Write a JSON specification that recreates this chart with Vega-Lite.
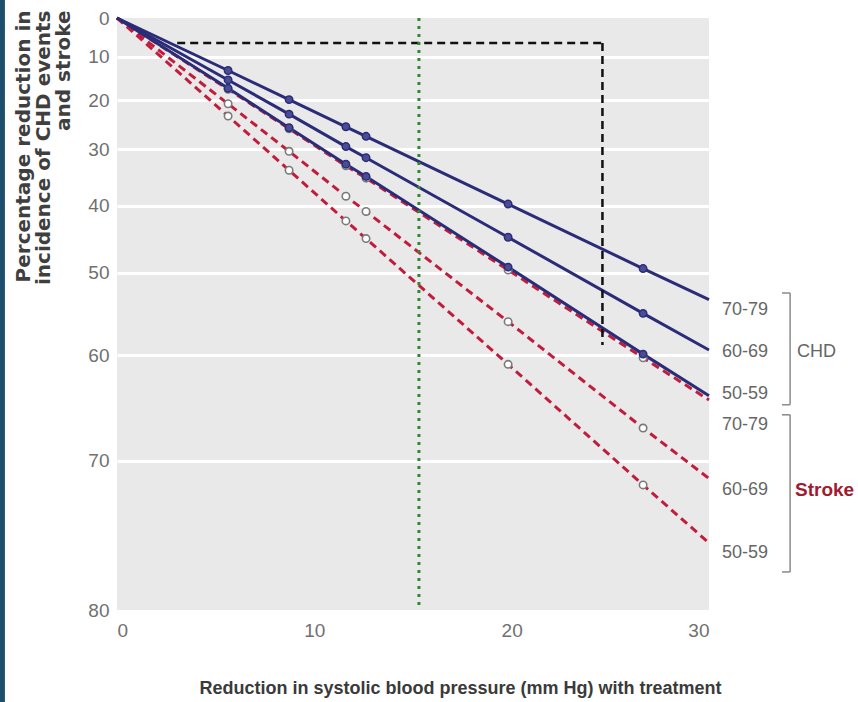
{
  "$schema": "https://vega.github.io/schema/vega-lite/v6.json",
  "width": 592,
  "height": 592,
  "autosize": {"type": "none"},
  "padding": {"left": 117, "top": 18, "right": 149, "bottom": 92},
  "background": "white",
  "config": {
    "view": {"fill": "#e9e9e9", "stroke": null},
    "font": "Liberation Sans, Arial, sans-serif"
  },
  "datasets": {
    "curves": [
      {"type": "CHD", "age": "70-79", "x": 0, "risk": 100},
      {"type": "CHD", "age": "70-79", "x": 5.63, "risk": 86.7},
      {"type": "CHD", "age": "70-79", "x": 8.72, "risk": 80.1},
      {"type": "CHD", "age": "70-79", "x": 11.6, "risk": 74.4},
      {"type": "CHD", "age": "70-79", "x": 12.62, "risk": 72.5},
      {"type": "CHD", "age": "70-79", "x": 19.82, "risk": 60.3},
      {"type": "CHD", "age": "70-79", "x": 26.66, "risk": 50.6},
      {"type": "CHD", "age": "70-79", "x": 30, "risk": 46.5},
      {"type": "CHD", "age": "60-69", "x": 0, "risk": 100},
      {"type": "CHD", "age": "60-69", "x": 5.63, "risk": 84.5},
      {"type": "CHD", "age": "60-69", "x": 8.72, "risk": 77.0},
      {"type": "CHD", "age": "60-69", "x": 11.6, "risk": 70.5},
      {"type": "CHD", "age": "60-69", "x": 12.62, "risk": 68.4},
      {"type": "CHD", "age": "60-69", "x": 19.82, "risk": 55.1},
      {"type": "CHD", "age": "60-69", "x": 26.66, "risk": 44.8},
      {"type": "CHD", "age": "60-69", "x": 30, "risk": 40.55},
      {"type": "CHD", "age": "50-59", "x": 0, "risk": 100},
      {"type": "CHD", "age": "50-59", "x": 5.63, "risk": 82.6},
      {"type": "CHD", "age": "50-59", "x": 8.72, "risk": 74.2},
      {"type": "CHD", "age": "50-59", "x": 11.6, "risk": 67.2},
      {"type": "CHD", "age": "50-59", "x": 12.62, "risk": 65.0},
      {"type": "CHD", "age": "50-59", "x": 19.82, "risk": 50.8},
      {"type": "CHD", "age": "50-59", "x": 26.66, "risk": 40.1},
      {"type": "CHD", "age": "50-59", "x": 30, "risk": 35.8},
      {"type": "Stroke", "age": "70-79", "x": 0, "risk": 100},
      {"type": "Stroke", "age": "70-79", "x": 5.63, "risk": 82.4},
      {"type": "Stroke", "age": "70-79", "x": 8.72, "risk": 74.0},
      {"type": "Stroke", "age": "70-79", "x": 11.6, "risk": 66.9},
      {"type": "Stroke", "age": "70-79", "x": 12.62, "risk": 64.7},
      {"type": "Stroke", "age": "70-79", "x": 19.82, "risk": 50.4},
      {"type": "Stroke", "age": "70-79", "x": 26.66, "risk": 39.7},
      {"type": "Stroke", "age": "70-79", "x": 30, "risk": 35.4},
      {"type": "Stroke", "age": "60-69", "x": 0, "risk": 100},
      {"type": "Stroke", "age": "60-69", "x": 5.63, "risk": 79.2},
      {"type": "Stroke", "age": "60-69", "x": 8.72, "risk": 69.6},
      {"type": "Stroke", "age": "60-69", "x": 11.6, "risk": 61.6},
      {"type": "Stroke", "age": "60-69", "x": 12.62, "risk": 59.1},
      {"type": "Stroke", "age": "60-69", "x": 19.82, "risk": 43.8},
      {"type": "Stroke", "age": "60-69", "x": 26.66, "risk": 32.8},
      {"type": "Stroke", "age": "60-69", "x": 30, "risk": 28.6},
      {"type": "Stroke", "age": "50-59", "x": 0, "risk": 100},
      {"type": "Stroke", "age": "50-59", "x": 5.63, "risk": 76.6},
      {"type": "Stroke", "age": "50-59", "x": 8.72, "risk": 66.1},
      {"type": "Stroke", "age": "50-59", "x": 11.6, "risk": 57.6},
      {"type": "Stroke", "age": "50-59", "x": 12.62, "risk": 54.9},
      {"type": "Stroke", "age": "50-59", "x": 19.82, "risk": 39.0},
      {"type": "Stroke", "age": "50-59", "x": 26.66, "risk": 28.1},
      {"type": "Stroke", "age": "50-59", "x": 30, "risk": 24.0}
    ],
    "box": [
      {"x": 3.05, "x2": 24.6, "y": 93.4, "y2": 93.4},
      {"x": 24.6, "x2": 24.6, "y": 93.4, "y2": 41.1}
    ],
    "green": [
      {"x": 15.3, "x2": 15.3, "y": 100, "y2": 20}
    ],
    "brackets": [
      {"x": 34.11, "x2": 34.11, "y": 47.35, "y2": 34.94},
      {"x": 33.7, "x2": 34.11, "y": 47.35, "y2": 47.35},
      {"x": 33.7, "x2": 34.11, "y": 34.94, "y2": 34.94},
      {"x": 34.11, "x2": 34.11, "y": 34.0, "y2": 22.18},
      {"x": 33.7, "x2": 34.11, "y": 34.0, "y2": 34.0},
      {"x": 33.7, "x2": 34.11, "y": 22.18, "y2": 22.18}
    ],
    "ages": [
      {"label": "70-79", "x": 30.66, "y": 45.22},
      {"label": "60-69", "x": 30.66, "y": 40.33},
      {"label": "50-59", "x": 30.66, "y": 35.97},
      {"label": "70-79", "x": 30.66, "y": 33.07},
      {"label": "60-69", "x": 30.66, "y": 27.72},
      {"label": "50-59", "x": 30.66, "y": 23.36}
    ],
    "groups": [
      {"label": "CHD", "x": 34.46, "y": 40.33}
    ],
    "groups2": [
      {"label": "Stroke", "x": 34.36, "y": 27.72}
    ],
    "stripe": [
      {"x": -6.3, "x2": -5.68, "y": 120, "y2": 14}
    ]
  },
  "encoding": {
    "x": {
      "type": "quantitative",
      "scale": {"domain": [0, 30], "nice": false, "zero": false},
      "axis": {
        "values": [0, 10, 20, 30],
        "title": "Reduction in systolic blood pressure (mm Hg) with treatment",
        "titleFont": "Liberation Sans, Arial, sans-serif",
        "titleFontSize": 18,
        "titleFontWeight": "bold",
        "titleColor": "#3a3a3a",
        "titleX": 343,
        "titleY": 78,
        "titleBaseline": "middle",
        "titleAlign": "center",
        "labelFontSize": 19,
        "labelColor": "#707070",
        "labelPadding": 11,
        "ticks": false,
        "domain": false,
        "grid": false
      }
    },
    "y": {
      "type": "quantitative",
      "scale": {"type": "log", "domain": [20, 100], "nice": false},
      "axis": {
        "values": [100, 90, 80, 70, 60, 50, 40, 30, 20],
        "labelExpr": "format(100 - datum.value, 'd')",
        "title": ["Percentage reduction in", "incidence of CHD events", "and stroke"],
        "titleFont": "DejaVu Sans, sans-serif",
        "titleFontSize": 20,
        "titleFontWeight": "bold",
        "titleColor": "#3f3f3f",
        "titleLineHeight": 20,
        "titleAngle": -90,
        "titleAlign": "right",
        "titleBaseline": "top",
        "titleX": -104,
        "titleY": -8,
        "labelFontSize": 19,
        "labelColor": "#707070",
        "labelPadding": 8,
        "ticks": false,
        "domain": false,
        "grid": true,
        "gridColor": {"condition": {"test": "datum.value == 100 || datum.value == 20", "value": "transparent"}, "value": "#ffffff"},
        "gridWidth": 3
      }
    }
  },
  "layer": [
    {
      "data": {"name": "stripe"},
      "mark": {"type": "rect", "color": "#1d4e6c", "clip": false},
      "encoding": {
        "x": {"field": "x"},
        "x2": {"field": "x2"},
        "y": {"field": "y"},
        "y2": {"field": "y2"}
      }
    },
    {
      "data": {"name": "curves"},
      "transform": [{"filter": "datum.type == 'Stroke'"}],
      "mark": {"type": "line", "color": "#c01d3d", "strokeWidth": 3, "strokeDash": [8, 5]},
      "encoding": {
        "x": {"field": "x"},
        "y": {"field": "risk"},
        "detail": {"field": "age", "type": "nominal"}
      }
    },
    {
      "data": {"name": "curves"},
      "transform": [{"filter": "datum.type == 'CHD'"}],
      "mark": {"type": "line", "color": "#2b2c78", "strokeWidth": 3},
      "encoding": {
        "x": {"field": "x"},
        "y": {"field": "risk"},
        "detail": {"field": "age", "type": "nominal"}
      }
    },
    {
      "data": {"name": "curves"},
      "transform": [{"filter": "datum.type == 'Stroke' && datum.x > 0 && datum.x < 30"}],
      "mark": {"type": "point", "shape": "circle", "filled": true, "fill": "#ffffff", "stroke": "#7a7a7a", "strokeWidth": 1.6, "size": 55, "opacity": 1},
      "encoding": {
        "x": {"field": "x"},
        "y": {"field": "risk"}
      }
    },
    {
      "data": {"name": "curves"},
      "transform": [{"filter": "datum.type == 'CHD' && datum.x > 0 && datum.x < 30"}],
      "mark": {"type": "point", "shape": "circle", "filled": true, "fill": "#4a4d95", "stroke": "#2b2c78", "strokeWidth": 1.5, "size": 55, "opacity": 1},
      "encoding": {
        "x": {"field": "x"},
        "y": {"field": "risk"}
      }
    },
    {
      "data": {"name": "box"},
      "mark": {"type": "rule", "color": "#111111", "strokeWidth": 2.5, "strokeDash": [8, 5]},
      "encoding": {
        "x": {"field": "x"},
        "x2": {"field": "x2"},
        "y": {"field": "y"},
        "y2": {"field": "y2"}
      }
    },
    {
      "data": {"name": "green"},
      "mark": {"type": "rule", "color": "#2f8a2f", "strokeWidth": 3, "strokeDash": [3, 5]},
      "encoding": {
        "x": {"field": "x"},
        "x2": {"field": "x2"},
        "y": {"field": "y"},
        "y2": {"field": "y2"}
      }
    },
    {
      "data": {"name": "brackets"},
      "mark": {"type": "rule", "color": "#8a8a8a", "strokeWidth": 1.5, "clip": false},
      "encoding": {
        "x": {"field": "x"},
        "x2": {"field": "x2"},
        "y": {"field": "y"},
        "y2": {"field": "y2"}
      }
    },
    {
      "data": {"name": "ages"},
      "mark": {"type": "text", "align": "left", "baseline": "middle", "fontSize": 18, "color": "#666666", "clip": false},
      "encoding": {
        "x": {"field": "x"},
        "y": {"field": "y"},
        "text": {"field": "label"}
      }
    },
    {
      "data": {"name": "groups"},
      "mark": {"type": "text", "align": "left", "baseline": "middle", "fontSize": 18, "color": "#666666", "clip": false},
      "encoding": {
        "x": {"field": "x"},
        "y": {"field": "y"},
        "text": {"field": "label"}
      }
    },
    {
      "data": {"name": "groups2"},
      "mark": {"type": "text", "align": "left", "baseline": "middle", "fontSize": 19, "fontWeight": "bold", "color": "#9e1b32", "clip": false},
      "encoding": {
        "x": {"field": "x"},
        "y": {"field": "y"},
        "text": {"field": "label"}
      }
    }
  ]
}
